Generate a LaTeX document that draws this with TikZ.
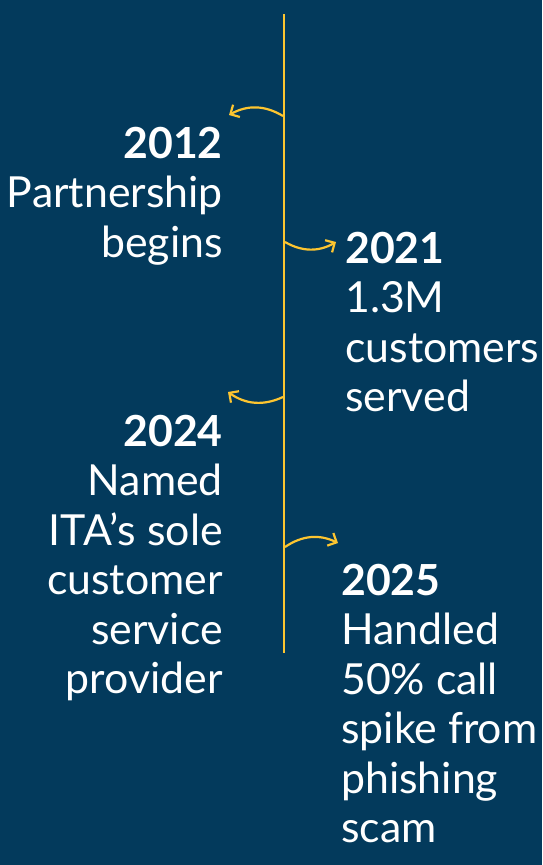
\documentclass[tikz,border=0pt]{standalone}
\usepackage{fontspec}
\setmainfont{Lato}
\usetikzlibrary{arrows.meta}
\definecolor{navy}{HTML}{033A5C}
\definecolor{gold}{HTML}{FDC530}

\begin{document}
\begin{tikzpicture}[x=1pt, y=1pt,
	label/.style = {text=white, inner sep=0pt, font=\fontsize{42.8}{49.5}\selectfont},
	left/.style = {label, align=right, anchor=north east},
	right/.style = {label, align=left, anchor=north west},
	link/.style = {draw=gold, line width=2.2pt, -{Straight Barb[length=7pt, width=14pt]}}]
	\fill[navy] (0,0) rectangle (542,-865);
	\coordinate (top) at (284,-14);
	\coordinate (bottom) at (284,-653);
	\draw[gold, line width=2.6pt] (top) -- (bottom);
	% events
	\coordinate (a) at (283,-116);
	\coordinate (b) at (285,-242);
	\coordinate (c) at (283,-397);
	\coordinate (d) at (285,-547);
	\node[left] (2012) at (223,-127) {\textbf{2012}\\Partnership\\begins};
	\node[right] (2021) at (345,-232) {\textbf{2021}\\1.3M\\customers\\served};
	\node[left] (2024) at (223,-415) {\textbf{2024}\\Named\\ITA’s sole\\customer\\service\\provider};
	\node[right] (2025) at (341,-564) {\textbf{2025}\\Handled\\50\% call\\spike from\\phishing\\scam};
	\coordinate (ta) at (229,-115);
	\coordinate (tb) at (336,-242);
	\coordinate (tc) at (228,-392);
	\coordinate (td) at (338,-543);
	\draw[link] (a) to[bend right=30] (ta);
	\draw[link] (b) to[bend right=30] (tb);
	\draw[link] (c) to[bend left=30] (tc);
	\draw[link] (d) to[bend left=30] (td);
\end{tikzpicture}
\end{document}
